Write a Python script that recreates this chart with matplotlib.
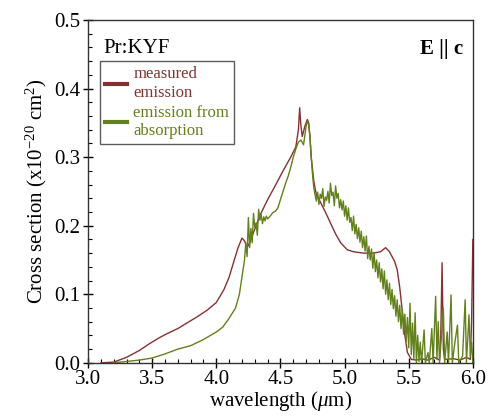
import matplotlib
matplotlib.use("Agg")
import matplotlib.pyplot as plt
import numpy as np

plt.rcParams["font.family"] = ["Liberation Serif", "DejaVu Serif"]
plt.rcParams["mathtext.fontset"] = "custom"
plt.rcParams["mathtext.rm"] = "Liberation Serif"
plt.rcParams["mathtext.it"] = "Liberation Serif:italic"

# measured emission cross section (E || c)
meas_wl = [3.10, 3.20, 3.30, 3.40, 3.48, 3.55, 3.61, 3.70, 3.77, 3.85, 3.93, 4.00,
           4.06, 4.10, 4.14, 4.17, 4.20, 4.22, 4.24, 4.26, 4.30, 4.34, 4.40, 4.47,
           4.52, 4.58, 4.62, 4.64, 4.65, 4.66, 4.67, 4.69, 4.71, 4.72, 4.73, 4.74,
           4.76, 4.78, 4.81, 4.85, 4.89, 4.93, 4.97, 5.02, 5.07, 5.15, 5.22, 5.28,
           5.32, 5.35, 5.39, 5.41, 5.43, 5.45, 5.47, 5.49, 5.52, 5.56, 5.60, 5.65,
           5.70, 5.74, 5.75, 5.76, 5.77, 5.78, 5.85, 5.90, 5.95, 5.98, 5.99, 6.00]
meas_cs = [0.000, 0.001, 0.008, 0.018, 0.028, 0.036, 0.042, 0.050, 0.058, 0.067, 0.077, 0.088,
           0.107, 0.125, 0.150, 0.168, 0.182, 0.178, 0.168, 0.175, 0.195, 0.215, 0.238, 0.262,
           0.280, 0.300, 0.315, 0.340, 0.372, 0.345, 0.330, 0.345, 0.355, 0.350, 0.330, 0.300,
           0.265, 0.245, 0.235, 0.220, 0.204, 0.188, 0.175, 0.165, 0.162, 0.160, 0.160, 0.162,
           0.168, 0.162, 0.148, 0.136, 0.110, 0.075, 0.040, 0.015, 0.005, 0.004, 0.006, 0.004,
           0.008, 0.004, 0.040, 0.146, 0.020, 0.005, 0.006, 0.004, 0.008, 0.005, 0.060, 0.180]

# emission cross section derived from absorption (McCumber)
abs_wl = [3.20, 3.30, 3.40, 3.50, 3.60, 3.70, 3.80, 3.90, 4.00, 4.05, 4.10, 4.15, 4.18,
          4.20, 4.22, 4.23, 4.24, 4.25, 4.26, 4.27, 4.28, 4.29, 4.30, 4.31, 4.32, 4.33,
          4.34, 4.35, 4.36, 4.37, 4.38, 4.39, 4.40, 4.42, 4.44, 4.46, 4.48, 4.50, 4.52,
          4.54, 4.56, 4.58, 4.60, 4.62, 4.64, 4.66, 4.68, 4.70, 4.71, 4.72, 4.73, 4.74,
          4.75, 4.76, 4.77, 4.78, 4.79, 4.80, 4.81, 4.82, 4.83, 4.84, 4.85, 4.86, 4.87,
          4.88, 4.89, 4.90, 4.91, 4.92, 4.93, 4.94, 4.95, 4.96, 4.97, 4.98, 4.99, 5.00,
          5.01, 5.02, 5.03, 5.04, 5.05, 5.06, 5.07, 5.08, 5.09, 5.10, 5.11, 5.12, 5.13,
          5.14, 5.15, 5.16, 5.17, 5.18, 5.19, 5.20, 5.21, 5.22, 5.23, 5.24, 5.25, 5.26,
          5.27, 5.28, 5.29, 5.30, 5.31, 5.32, 5.33, 5.34, 5.35, 5.36, 5.37, 5.38, 5.39,
          5.40, 5.41, 5.42, 5.43, 5.44, 5.45, 5.46, 5.47, 5.48, 5.49, 5.50, 5.51, 5.52,
          5.53, 5.54, 5.55, 5.56, 5.57, 5.58, 5.59, 5.60, 5.62, 5.63, 5.65, 5.66, 5.68,
          5.69, 5.71, 5.72, 5.73, 5.74, 5.77, 5.78, 5.80, 5.81, 5.83, 5.84, 5.86, 5.88,
          5.89, 5.92, 5.94, 5.95, 5.97, 5.98, 5.99, 6.00]
abs_cs = [0.000, 0.002, 0.004, 0.007, 0.013, 0.020, 0.025, 0.034, 0.045, 0.052, 0.065, 0.080, 0.100,
          0.125, 0.150, 0.175, 0.155, 0.212, 0.168, 0.196, 0.175, 0.218, 0.198, 0.204, 0.186, 0.224,
          0.208, 0.216, 0.203, 0.213, 0.207, 0.214, 0.210, 0.214, 0.219, 0.221, 0.226, 0.238, 0.250,
          0.262, 0.272, 0.285, 0.300, 0.312, 0.322, 0.325, 0.318, 0.345, 0.352, 0.348, 0.330, 0.300,
          0.275, 0.255, 0.245, 0.236, 0.249, 0.231, 0.246, 0.240, 0.254, 0.228, 0.242, 0.237, 0.250,
          0.233, 0.262, 0.244, 0.249, 0.229, 0.258, 0.240, 0.247, 0.226, 0.238, 0.223, 0.236, 0.214,
          0.229, 0.208, 0.226, 0.205, 0.212, 0.193, 0.214, 0.188, 0.202, 0.181, 0.197, 0.176, 0.192,
          0.168, 0.184, 0.163, 0.185, 0.152, 0.170, 0.150, 0.166, 0.138, 0.161, 0.133, 0.150, 0.124,
          0.146, 0.118, 0.137, 0.108, 0.134, 0.100, 0.121, 0.092, 0.116, 0.085, 0.107, 0.079, 0.098,
          0.068, 0.092, 0.060, 0.084, 0.050, 0.078, 0.042, 0.071, 0.031, 0.066, 0.022, 0.087, 0.012,
          0.058, 0.006, 0.073, 0.000, 0.040, 0.002, 0.030, 0.000, 0.048, 0.000, 0.015, 0.000, 0.050,
          0.000, 0.097, 0.005, 0.060, 0.000, 0.080, 0.000, 0.045, 0.000, 0.099, 0.000, 0.030, 0.055,
          0.000, 0.010, 0.092, 0.000, 0.070, 0.010, 0.030, 0.000]

RED = "#843232"
GREEN = "#62801c"

fig = plt.figure(figsize=(4.89, 4.18), dpi=100)
ax = fig.add_axes([0.180, 0.132, 0.787, 0.820])

ax.plot(meas_wl, meas_cs, color=RED, lw=1.0, label="measured\nemission")
ax.plot(abs_wl, abs_cs, color=GREEN, lw=1.0, label="emission from\nabsorption")

ax.set_xlim(3.0, 6.0)
ax.set_ylim(0.0, 0.5)
ax.set_xticks(np.arange(3.0, 6.01, 0.5))
ax.set_yticks(np.arange(0.0, 0.51, 0.1))
ax.set_xticks(np.arange(3.0, 6.01, 0.1), minor=True)
ax.set_yticks(np.arange(0.0, 0.501, 0.02), minor=True)
ax.xaxis.set_major_formatter(matplotlib.ticker.FormatStrFormatter("%.1f"))
ax.yaxis.set_major_formatter(matplotlib.ticker.FormatStrFormatter("%.1f"))
ax.tick_params(which="major", direction="inout", length=7, width=1.0, labelsize=15, pad=2)
ax.tick_params(which="minor", direction="in", length=3, width=0.8)
for sp in ax.spines.values():
    sp.set_linewidth(1.0)
    sp.set_color("#333333")

ax.set_xlabel(r"wavelength ($\mu$m)", fontsize=15, labelpad=0)
ax.set_ylabel(r"Cross section (x10$^{-20}$ cm$^{2}$)", fontsize=15, labelpad=4)

ax.text(0.04, 0.945, "Pr:KYF", transform=ax.transAxes, fontsize=15, va="top", ha="left")
ax.text(0.975, 0.945, r"E || c", transform=ax.transAxes, fontsize=15, va="top",
        ha="right", fontweight="bold")

leg = ax.legend(loc="upper left", bbox_to_anchor=(0.031, 0.880), borderaxespad=0,
                fontsize=12, frameon=True, fancybox=False, edgecolor="#333333",
                handlelength=1.3, handletextpad=0.4, borderpad=0.3, labelspacing=0.25,
                labelcolor=[RED, GREEN])
leg.get_frame().set_linewidth(1.0)
for line in leg.get_lines():
    line.set_linewidth(3.0)

fig.savefig("out.png", dpi=100)
